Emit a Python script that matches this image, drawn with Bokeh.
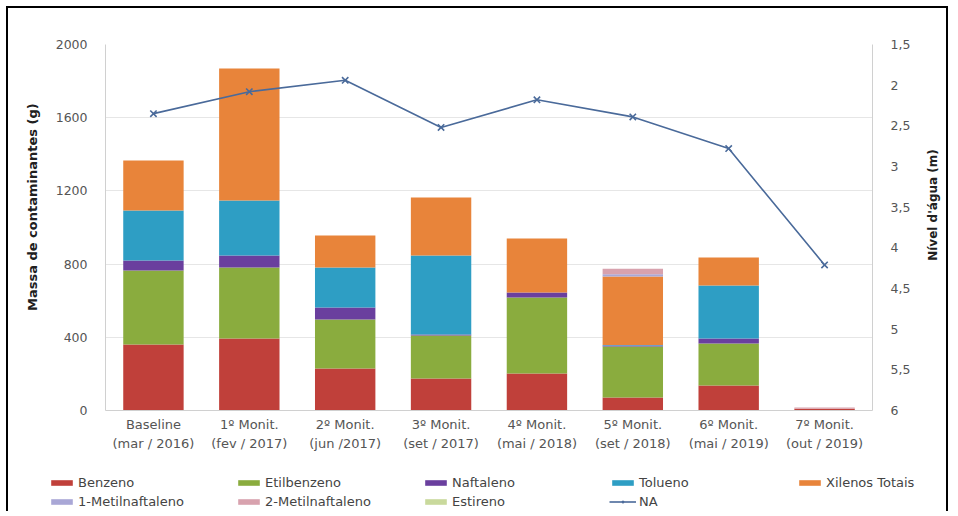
import math
from bokeh.plotting import figure
from bokeh.models import (Range1d, LinearAxis, FixedTicker, Legend, LegendItem, FactorRange,
                          ColumnDataSource)
from bokeh.embed import file_html
from bokeh.resources import INLINE

categories = ["Baseline\n(mar / 2016)", "1º Monit.\n(fev / 2017)", "2º Monit.\n(jun /2017)",
              "3º Monit.\n(set / 2017)", "4º Monit.\n(mai / 2018)", "5º Monit.\n(set / 2018)",
              "6º Monit.\n(mai / 2019)", "7º Monit.\n(out / 2019)"]

benzeno = [360, 393, 230, 175, 202, 71, 137, 10]
etilbenzeno = [405, 388, 267, 235, 415, 279, 229, 0]
naftaleno = [55, 66, 66, 5, 28, 5, 27, 0]
tolueno = [273, 301, 218, 432, 0, 3, 290, 0]
xilenos = [273, 721, 175, 317, 295, 374, 153, 0]
metil1 = [0, 0, 0, 0, 0, 12, 0, 0]
metil2 = [0, 0, 0, 0, 0, 30, 0, 6]
estireno = [0, 0, 0, 0, 0, 0, 0, 0]
na_level = [2.35, 2.08, 1.94, 2.52, 2.18, 2.39, 2.78, 4.21]

series_names = ["Benzeno", "Etilbenzeno", "Naftaleno", "Tolueno", "Xilenos Totais",
                "1-Metilnaftaleno", "2-Metilnaftaleno", "Estireno"]
colors = ["#c0403a", "#8aac3e", "#6a3f9e", "#2e9ec4", "#e8843a",
          "#a9a7d6", "#d8a2ae", "#c9d99c"]
na_name = "NA"
na_color = "#4a6a9a"

left_ticks = [0, 400, 800, 1200, 1600, 2000]
right_ticks = [1.5, 2, 2.5, 3, 3.5, 4, 4.5, 5, 5.5, 6]
right_labels = ["1,5", "2", "2,5", "3", "3,5", "4", "4,5", "5", "5,5", "6"]
left_title = "Massa de contaminantes (g)"
right_title = "Nível d'água (m)"
right_title_at = 4.16

FONT = "DejaVu Sans"
NB = "\u00a0"

keys = ["b", "e", "n", "t", "x", "m1", "m2", "es"]
data = {"cat": categories, "na": na_level}
for k, arr in zip(keys, [benzeno, etilbenzeno, naftaleno, tolueno, xilenos, metil1, metil2, estireno]):
    data[k] = arr
source = ColumnDataSource(data)

# ---------------- main chart ----------------
p = figure(width=942, height=455, x_range=FactorRange(*categories),
           y_range=Range1d(0, 2000), output_backend="svg", toolbar_location=None,
           min_border_left=97, min_border_right=67, min_border_top=36, min_border_bottom=53)
p.styles = {"margin-left": "6px", "margin-top": "6px",
            "border-top": "2px solid black", "border-left": "2px solid black",
            "border-right": "2px solid black"}
p.outline_line_color = None
p.extra_y_ranges = {"na": Range1d(start=6, end=1.5)}

p.vbar_stack(keys, x="cat", width=0.63, source=source, color=colors, line_color=None)
p.line(x="cat", y="na", source=source, y_range_name="na", line_color=na_color, line_width=1.6)
p.scatter(x="cat", y="na", source=source, y_range_name="na", marker="x", size=9,
          line_color=na_color, line_width=1.6)

p.yaxis.ticker = FixedTicker(ticks=left_ticks)
p.yaxis.axis_label = NB * 9 + left_title
ax_right = LinearAxis(y_range_name="na", ticker=FixedTicker(ticks=right_ticks),
                      major_label_overrides={t: l for t, l in zip(right_ticks, right_labels)})
p.add_layout(ax_right, "right")
ax_title = LinearAxis(y_range_name="na", ticker=FixedTicker(ticks=[right_title_at]),
                      major_label_overrides={right_title_at: right_title},
                      major_label_orientation=math.pi / 2)
p.add_layout(ax_title, "right")

for ax in [p.yaxis[0], ax_right, p.xaxis[0], ax_title]:
    ax.axis_line_color = "#d0d0d0"
    ax.major_tick_line_color = None
    ax.minor_tick_line_color = None
    ax.major_label_text_font = FONT
    ax.major_label_text_font_size = "12.5px"
    ax.major_label_text_color = "#555555"
    ax.axis_label_text_font = FONT
    ax.axis_label_text_font_size = "13px"
    ax.axis_label_text_font_style = "bold"
    ax.axis_label_text_color = "#202020"
    ax.major_label_standoff = 12
ax_title.axis_line_color = None
ax_title.major_label_standoff = 14
ax_title.major_label_text_font_style = "bold"
ax_title.major_label_text_color = "#202020"
ax_title.major_label_text_font_size = "12px"
p.xaxis.major_label_standoff = 0
p.xaxis.major_label_text_font_size = "13px"
p.xaxis.major_label_text_line_height = 1.3
p.yaxis[0].axis_label_standoff = 13

p.xgrid.grid_line_color = None
p.ygrid.grid_line_color = "#e6e6e6"

# ---------------- legend strip ----------------
p2 = figure(width=942, height=50, x_range=FactorRange(*categories), y_range=Range1d(0, 2000),
            output_backend="svg", toolbar_location=None, x_axis_type=None, y_axis_type=None,
            min_border=0, min_border_left=0, min_border_right=0, min_border_top=0,
            min_border_bottom=0)
p2.styles = {"margin-left": "6px", "border-left": "2px solid black",
             "border-right": "2px solid black"}
p2.outline_line_color = None
p2.xgrid.visible = False
p2.ygrid.visible = False
p2.extra_y_ranges = {"na": Range1d(start=6, end=1.5)}
lbars = p2.vbar_stack(keys, x="cat", width=0.63, source=source, color=colors, line_color=None)
lline = p2.line(x="cat", y="na", source=source, y_range_name="na", line_color=na_color,
                line_width=1.6)
lpts = p2.scatter(x="cat", y="na", source=source, y_range_name="na", marker="x", size=11,
                  line_color=na_color, line_width=1.6)
for r in list(lbars) + [lline, lpts]:
    r.visible = False

items = [LegendItem(label=n, renderers=[r]) for n, r in zip(series_names, lbars)]
items.append(LegendItem(label=na_name, renderers=[lline, lpts]))
legend = Legend(items=items, location=(40, 1), orientation="horizontal", ncols=5,
                label_width=155, glyph_width=27, glyph_height=7, label_standoff=3,
                spacing=2, padding=0, margin=0, border_line_color=None,
                background_fill_alpha=0, inactive_fill_alpha=0, label_text_font=FONT,
                label_text_font_size="13px", label_text_color="#444444",
                label_height=17)
p2.add_layout(legend, "center")

open("out.html", "w").write(file_html([p, p2], INLINE))
